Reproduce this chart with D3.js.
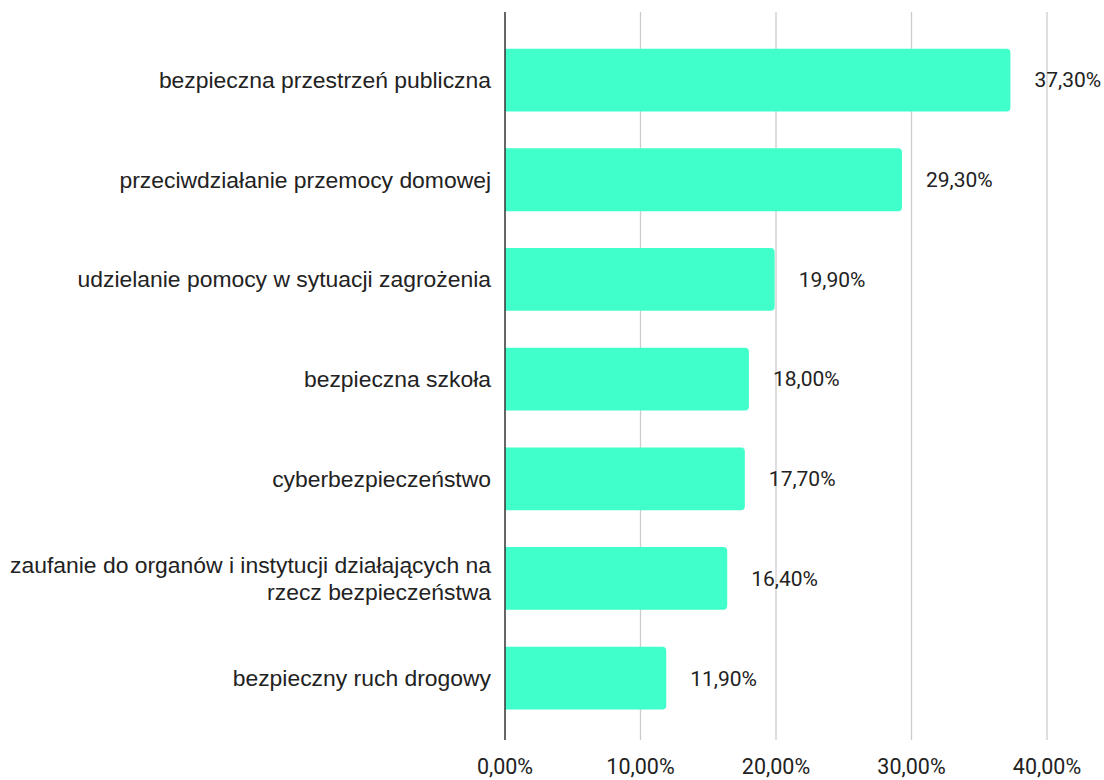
<!DOCTYPE html>
<html><head><meta charset="utf-8">
<script src="https://cdn.jsdelivr.net/npm/d3@7/dist/d3.min.js"></script>
<style>body{margin:0;background:#fff}</style>
</head><body>
<svg id="c" width="1104" height="780"></svg>
<script>
const categories = [
  ["bezpieczna przestrzeń publiczna"],
  ["przeciwdziałanie przemocy domowej"],
  ["udzielanie pomocy w sytuacji zagrożenia"],
  ["bezpieczna szkoła"],
  ["cyberbezpieczeństwo"],
  ["zaufanie do organów i instytucji działających na", "rzecz bezpieczeństwa"],
  ["bezpieczny ruch drogowy"]
];
const values = [37.3, 29.3, 19.9, 18.0, 17.7, 16.4, 11.9];
const tickValues = [0, 10, 20, 30, 40];
const fmt = v => v.toFixed(2).replace(".", ",") + "%";

const svg = d3.select("#c");
const x = d3.scaleLinear().domain([0, 40]).range([505, 1047]);
const y = d3.scaleBand().domain(d3.range(values.length)).range([30.2, 728]).paddingInner(0.37).paddingOuter(0.185);
const plotTop = 12, plotBottom = 740;

// gridlines
svg.append("g").selectAll("line").data(tickValues.slice(1)).join("line")
  .attr("x1", d => x(d)).attr("x2", d => x(d)).attr("y1", plotTop).attr("y2", plotBottom)
  .attr("stroke", "#cccccc").attr("stroke-width", 1.3);

// bars with rounded right corners
const r = 4;
svg.append("g").selectAll("path").data(values).join("path")
  .attr("fill", "#40ffca")
  .attr("d", (d, i) => {
    const x0 = x(0), x1 = x(d), y0 = y(i), h = y.bandwidth();
    return `M${x0},${y0}H${x1 - r}Q${x1},${y0} ${x1},${y0 + r}V${y0 + h - r}Q${x1},${y0 + h} ${x1 - r},${y0 + h}H${x0}Z`;
  });

// axis line
svg.append("line").attr("x1", x(0)).attr("x2", x(0)).attr("y1", plotTop).attr("y2", plotBottom)
  .attr("stroke", "#333").attr("stroke-width", 1.5);

// value labels
svg.append("g").selectAll("text").data(values).join("text")
  .attr("x", d => x(d) + 24).attr("y", (d, i) => y(i) + y.bandwidth() / 2)
  .attr("dy", "0.35em")
  .attr("font-family", "Roboto, sans-serif").attr("font-size", 21).attr("fill", "#222")
  .text(fmt);

// category labels
const cg = svg.append("g");
categories.forEach((lines, i) => {
  const cy = y(i) + y.bandwidth() / 2;
  const lh = 27;
  const t = cg.append("text").attr("text-anchor", "end")
    .attr("font-family", "'Liberation Sans', Arial, sans-serif").attr("font-size", 22.9).attr("fill", "#222");
  lines.forEach((l, j) => {
    t.append("tspan").attr("x", 491)
      .attr("y", cy + (j - (lines.length - 1) / 2) * lh)
      .attr("dy", "0.35em").text(l);
  });
});

// x tick labels
svg.append("g").selectAll("text").data(tickValues).join("text")
  .attr("x", d => x(d)).attr("y", 774).attr("text-anchor", "middle")
  .attr("font-family", "Roboto, sans-serif").attr("font-size", 21.5).attr("fill", "#222")
  .text(fmt);
</script>
</body></html>
